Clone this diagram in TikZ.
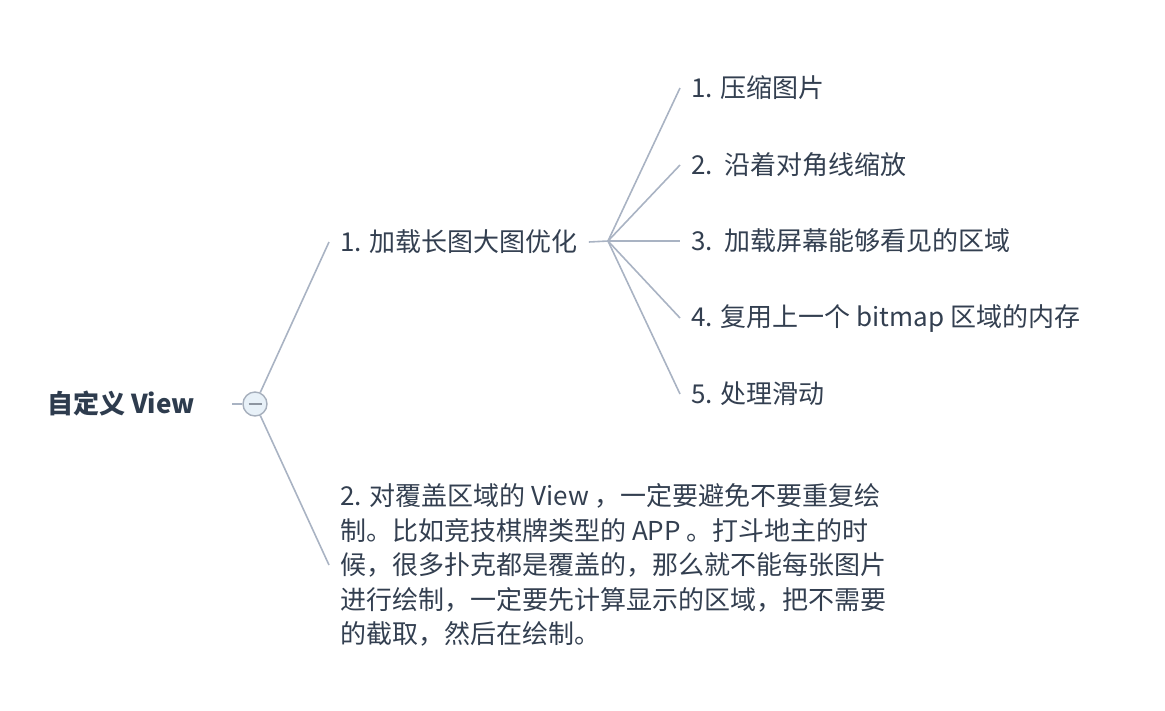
\documentclass[tikz,border=0pt]{standalone}
\usepackage{fontspec}
\setmainfont{Noto Sans CJK SC}
\usetikzlibrary{positioning}
\definecolor{ink}{HTML}{333F50}
\definecolor{rootink}{HTML}{2E3C4E}
\definecolor{line}{HTML}{A9B3C3}
\definecolor{foldfill}{HTML}{E8F1F8}
\definecolor{folddraw}{HTML}{A6AFBC}
\tikzset{
  font=\fontsize{26pt}{34.5pt}\selectfont,
  topic/.style={text=ink, inner xsep=11pt, inner ysep=2pt, anchor=west},
  roottopic/.style={text=rootink, font=\fontsize{26pt}{34.5pt}\selectfont\bfseries, inner sep=0pt, anchor=west},
  para/.style={topic, align=left},
  branch/.style={draw=line, line width=1.6pt},
  fold/.style={circle, draw=folddraw, fill=foldfill, line width=1.4pt, minimum size=24pt, inner sep=0pt},
  foldmark/.style={draw=folddraw!85!black, line width=1.6pt}
}

\begin{document}
\begin{tikzpicture}[x=1pt,y=-1pt]
  \useasboundingbox (0,0) rectangle (1165,710);

  % root
  \node[roottopic] (root) at (47,404) {自定义 View};
  \coordinate (rootout) at (232,404);
  \node[fold] (fd) at (255,404) {};
  \draw[foldmark] ([xshift=-6.5pt]fd.center) -- ([xshift=6.5pt]fd.center);

  % first level
  \node[topic] (opt) at (329,242) {1. 加载长图大图优化};
  \node[para]  (cover) at (329,565) {2. 对覆盖区域的 View ，一定要避免不要重复绘\\
    制。比如竞技棋牌类型的 APP 。打斗地主的时\\
    候，很多扑克都是覆盖的，那么就不能每张图片\\
    进行绘制，一定要先计算显示的区域，把不需要\\
    的截取，然后在绘制。};

  % second level
  \coordinate (hub) at (608,241);
  \node[topic] (s1) at (680,88)  {1. 压缩图片};
  \node[topic] (s2) at (680,165) {2.\ \ 沿着对角线缩放};
  \node[topic] (s3) at (680,241) {3.\ \ 加载屏幕能够看见的区域};
  \node[topic] (s4) at (680,318) {4. 复用上一个 bitmap 区域的内存};
  \node[topic] (s5) at (680,394) {5. 处理滑动};

  % edges
  \draw[branch] (rootout) -- (fd);
  \draw[branch] (fd) -- (opt.west);
  \draw[branch] (fd) -- (cover.west);
  \draw[branch] (opt.east) -- (hub);
  \foreach \s in {s1,s2,s3,s4,s5}
    \draw[branch] (hub) -- (\s.west);
\end{tikzpicture}
\end{document}
